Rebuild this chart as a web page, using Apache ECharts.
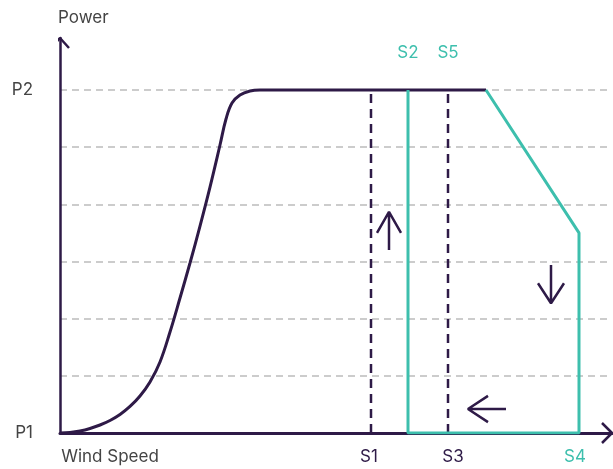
<!DOCTYPE html>
<html>
<head>
<meta charset="utf-8">
<script src="https://cdn.jsdelivr.net/npm/echarts@6/dist/echarts.min.js"></script>
<style>html,body{margin:0;padding:0;background:#fff}#c{width:613px;height:469px}</style>
</head>
<body>
<div id="c"></div>
<script>
// ---- data (x: wind speed units, y: power units, P1 = 0, P2 = 6) ----
var powerCurve = [[0,0],[2,0.009],[4,0.035],[6,0.079],[8,0.14],[10,0.219],[12,0.324],[14,0.464],[16,0.647],[18,0.892],[20,1.242],[22,1.767],[24,2.362],[26,2.974],[28,3.621],[30,4.303],[32,5.038],[33.2,5.493],[34.4,5.773],[36,5.913],[38,5.983],[40,6],[42,6],[85.2,6]];
var tealPath = [[69.6,6],[69.6,0],[103.8,0],[103.8,3.5],[85.2,6]];
var s1Line = [[62.2,0],[62.2,6]];
var s3Line = [[77.6,0],[77.6,6]];
var upArrow = [[65.8,3.2],[65.8,3.87],'-',[63.4,3.5],[65.8,3.87],[68.2,3.5]];
var downArrow = [[98.2,2.94],[98.2,2.27],'-',[95.6,2.62],[98.2,2.27],[100.8,2.62]];
var leftArrow = [[89.2,0.42],[81.6,0.42],'-',[85.6,0.65],[81.6,0.42],[85.6,0.19]];
var yAxisArrow = [[-1.8,6.735],[0,6.91],[1.8,6.735]];
var xAxisArrow = [[108.4,0.175],[110.4,0],[108.4,-0.175]];
var xTickValues = [10, 61.8, 78.6, 103];
var xTickLabels = ['Wind Speed', 'S1', 'S3', 'S4'];
var topTickValues = [69.6, 77.6];
var topTickLabels = ['S2', 'S5'];
var yTickLabels = {0: 'P1', 6: 'P2'};
var xMax = 110.4, yMax = 6.91;

var PURPLE = '#2e1a47', TEAL = '#3dbfad', GREY = '#444444', GRID = '#cccccc';
var FONT = 'Inter';
var tealNames = ['S2', 'S4', 'S5'];
function findLabel(values, labels, v) {
  var n = parseFloat(v);
  for (var i = 0; i < values.length; i++) if (Math.abs(values[i] - n) < 1e-6) return labels[i];
  return '';
}
function lab(values, labels) {
  return function (v) { return findLabel(values, labels, v); };
}
function labColor(values, labels) {
  return function (v) {
    var t = findLabel(values, labels, v);
    if (tealNames.indexOf(t) >= 0) return TEAL;
    if (t === 'Wind Speed') return GREY;
    return PURPLE;
  };
}
function deco(data, color) {
  return { type: 'line', data: data, symbol: 'none', clip: false, silent: true, z: 5,
           lineStyle: { color: color, width: 2.5 } };
}

var chart = echarts.init(document.getElementById('c'));
chart.setOption({
  animation: false,
  grid: { left: 60, right: 1, top: 38, bottom: 36 },
  xAxis: [{
    type: 'value', min: 0, max: xMax,
    axisLine: { show: true, onZero: false, lineStyle: { color: PURPLE, width: 3 } },
    axisTick: { show: false },
    splitLine: { show: false },
    axisLabel: { customValues: xTickValues, formatter: lab(xTickValues, xTickLabels),
                 color: labColor(xTickValues, xTickLabels), fontFamily: FONT, fontSize: 17, margin: 15 }
  }, {
    type: 'value', min: 0, max: xMax, position: 'top',
    axisLine: { show: false }, axisTick: { show: false }, splitLine: { show: false },
    axisLabel: { inside: true, customValues: topTickValues, formatter: lab(topTickValues, topTickLabels),
                 color: labColor(topTickValues, topTickLabels), fontFamily: FONT, fontSize: 17, margin: 6 }
  }],
  yAxis: {
    type: 'value', min: 0, max: yMax, interval: 1,
    name: 'Power', nameLocation: 'end', nameGap: 12,
    nameTextStyle: { align: 'left', color: GREY, fontFamily: FONT, fontSize: 17, padding: [0, 0, 0, -2] },
    axisLine: { show: true, onZero: false, lineStyle: { color: PURPLE, width: 2.5 } },
    axisTick: { show: false },
    splitLine: { show: true, showMaxLine: false, showMinLine: false,
                 lineStyle: { color: GRID, width: 2, type: [7, 5] } },
    axisLabel: { formatter: function (v) { return yTickLabels[v] || ''; }, color: GREY,
                 fontFamily: FONT, fontSize: 17, margin: 27, showMaxLabel: false }
  },
  series: [
    { type: 'line', data: s1Line, symbol: 'none', z: 3,
      lineStyle: { color: PURPLE, width: 2.5, type: [9, 6] } },
    { type: 'line', data: s3Line, symbol: 'none', z: 3,
      lineStyle: { color: PURPLE, width: 2.5, type: [9, 6] } },
    { type: 'line', data: powerCurve, symbol: 'none', smooth: 0.4, z: 4,
      lineStyle: { color: PURPLE, width: 3 } },
    { type: 'line', data: tealPath, symbol: 'none', z: 6,
      lineStyle: { color: TEAL, width: 3 } },
    deco(upArrow, PURPLE), deco(downArrow, PURPLE), deco(leftArrow, PURPLE),
    deco(yAxisArrow, PURPLE), deco(xAxisArrow, PURPLE)
  ]
});
</script>
</body>
</html>
